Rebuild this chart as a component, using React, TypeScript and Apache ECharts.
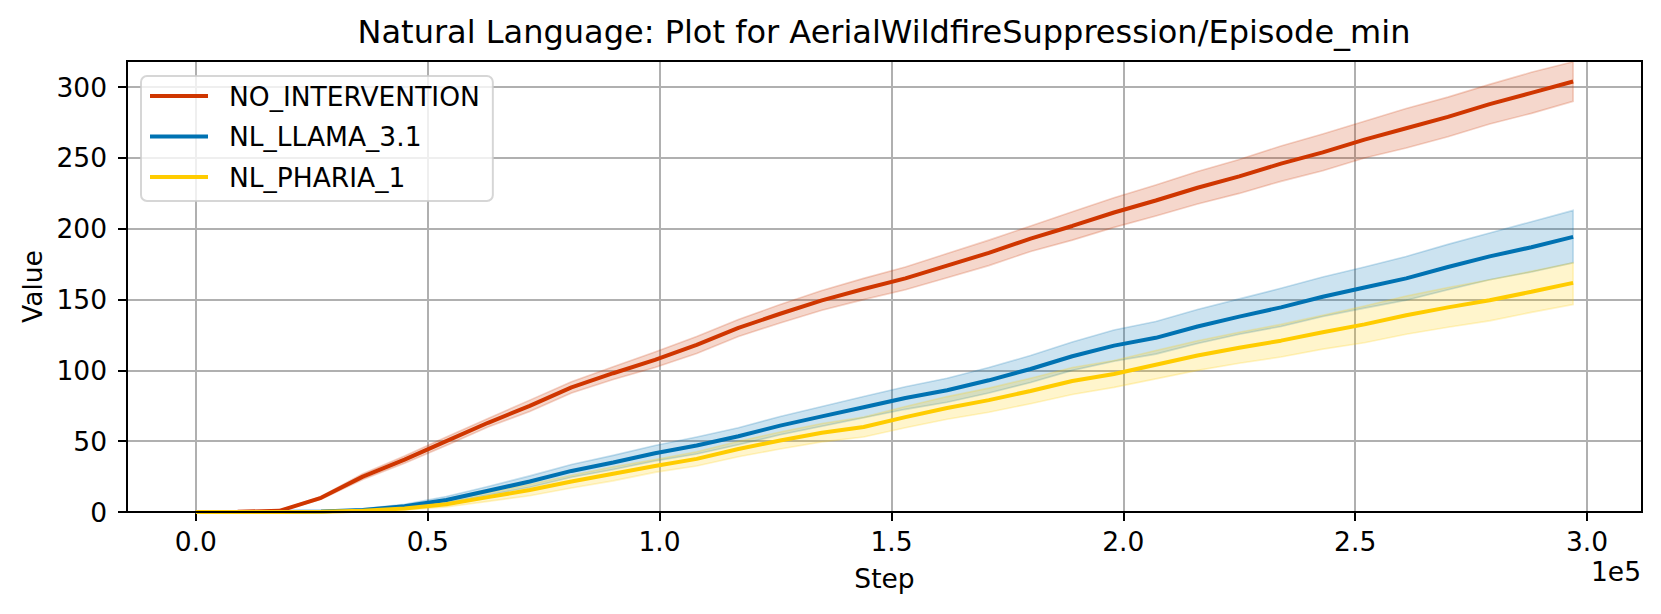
import React, { useEffect, useRef } from "react";
import * as echarts from "echarts";

const steps = [0, 9000, 18000, 27000, 36000, 45000, 54000, 63000, 72000, 81000, 90000, 99000, 108000, 117000, 126000, 135000, 144000, 153000, 162000, 171000, 180000, 189000, 198000, 207000, 216000, 225000, 234000, 243000, 252000, 261000, 270000, 279000, 288000, 297000];

const noInterventionMean = [0, 0.2, 0.8, 10, 25, 37, 50, 63, 75, 88, 98, 107.5, 118, 130, 140, 149.5, 157.5, 165, 174, 183, 193, 202, 211.5, 220, 229, 237, 246, 254, 263, 271, 279, 288, 296, 304];
const noInterventionHi = [0, 0.3, 1, 11, 27, 39.5, 53, 66, 79, 92, 102.5, 113, 124, 136, 146.5, 156.5, 165, 173, 182.5, 192, 202, 212, 222, 231, 240.5, 249, 258.5, 267, 276, 285, 293, 302, 310.5, 318];
const noInterventionLo = [0, 0.1, 0.6, 9, 23, 34.5, 47, 60, 71, 84, 93.5, 102, 112, 124, 133.5, 142.5, 150, 157, 165.5, 174, 184, 192, 201, 209, 217.5, 225, 233.5, 241, 250, 257, 265, 274, 281.5, 290];

const llamaMean = [0, 0, 0, 0.3, 1.5, 4, 8.5, 15, 21.5, 29, 35, 41.5, 47, 53.5, 61, 67.5, 74, 80.5, 86, 93, 101, 110, 117.5, 123, 131, 138, 144.5, 152, 158.5, 165, 173, 180.5, 187, 194.3];
const llamaHi = [0, 0, 0.1, 0.6, 2.3, 5.5, 11, 18, 25.5, 33.5, 40, 47, 53, 59.5, 67.5, 74.5, 81.5, 88.5, 94.5, 102, 110.5, 120, 128.5, 134.5, 143, 150.5, 158, 166, 173, 180.5, 189, 197, 205, 213];
const llamaLo = [0, 0, 0, 0.1, 0.8, 2.8, 6.5, 12, 17.5, 24.5, 30, 36, 41, 47.5, 54.5, 60.5, 66.5, 72.5, 77.5, 84, 91.5, 100, 106.5, 111.5, 119, 125.5, 131, 138, 144, 149.5, 157, 164, 169.5, 176];

const phariaMean = [0, 0, 0, 0.1, 0.8, 2.5, 5.5, 10.5, 15.5, 21.5, 27, 32.5, 37.5, 44.5, 50.5, 56, 60, 67, 73.5, 79, 85.5, 92.5, 97.5, 104, 110.5, 116, 121, 127, 132.5, 139, 144.5, 149.5, 155.5, 161.8];
const phariaHi = [0, 0, 0, 0.3, 1.4, 4, 8, 14, 19.5, 26, 32, 37, 42.5, 50, 56.5, 62.5, 67, 74.5, 81.5, 87.5, 94.5, 102, 107, 114, 121, 127, 132.5, 139, 145.5, 152.5, 158.5, 164, 170, 176];
const phariaLo = [0, 0, 0, 0, 0.3, 1.2, 3.5, 7.5, 11.5, 17, 22, 28, 32.5, 39, 44.5, 49.5, 53, 59.5, 65.5, 70.5, 76.5, 83, 88, 94, 100, 105, 109.5, 115, 119.5, 125.5, 130.5, 135, 141, 146.5];

const xTicks = [0, 50000, 100000, 150000, 200000, 250000, 300000];
const yTicks = [0, 50, 100, 150, 200, 250, 300];

const seriesDefs = [
  { name: "NO_INTERVENTION", color: "#CF3600", rgb: "207,54,0", mean: noInterventionMean, hi: noInterventionHi, lo: noInterventionLo },
  { name: "NL_LLAMA_3.1", color: "#0072B2", rgb: "0,114,178", mean: llamaMean, hi: llamaHi, lo: llamaLo },
  { name: "NL_PHARIA_1", color: "#FFCC00", rgb: "255,204,0", mean: phariaMean, hi: phariaHi, lo: phariaLo },
];

const FONT = '"DejaVu Sans", "Liberation Sans", sans-serif';
const TICK_FS = 26.5;

export default function App() {
  const ref = useRef<HTMLDivElement>(null);

  useEffect(() => {
    if (!ref.current) return;
    const chart = echarts.init(ref.current, null, { renderer: "svg" });

    const bandSeries = seriesDefs.map((d) => ({
      type: "custom",
      name: d.name + " band",
      silent: true,
      z: 1,
      data: [[steps[0], d.lo[0]]],
      renderItem: (params: any, api: any) => {
        const pts: number[][] = [];
        for (let i = 0; i < steps.length; i++) pts.push(api.coord([steps[i], d.hi[i]]));
        for (let i = steps.length - 1; i >= 0; i--) pts.push(api.coord([steps[i], d.lo[i]]));
        return {
          type: "polygon",
          shape: { points: pts },
          style: {
            fill: `rgba(${d.rgb},0.2)`,
            stroke: `rgba(${d.rgb},0.22)`,
            lineWidth: 1.6,
          },
        };
      },
    }));

    const lineSeries = seriesDefs.map((d) => ({
      type: "line",
      name: d.name,
      color: d.color,
      data: steps.map((x, i) => [x, d.mean[i]]),
      showSymbol: false,
      symbol: "none",
      z: 3,
      lineStyle: { color: d.color, width: 4 },
      itemStyle: { color: d.color },
    }));

    chart.setOption({
      animation: false,
      backgroundColor: "#ffffff",
      title: {
        text: "Natural Language: Plot for AerialWildfireSuppression/Episode_min",
        left: 884,
        top: 16,
        padding: 0,
        textAlign: "center",
        textStyle: { fontFamily: FONT, fontSize: 32, fontWeight: "normal", color: "#000" },
      },
      grid: { left: 127, right: 19, top: 61, bottom: 102, containLabel: false },
      legend: {
        data: seriesDefs.map((d) => d.name),
        orient: "vertical",
        left: 141,
        top: 76,
        padding: [5, 13, 9, 9],
        itemWidth: 58,
        itemHeight: 4,
        itemGap: 10.5,
        icon: "rect",
        backgroundColor: "rgba(255,255,255,0.8)",
        borderColor: "rgba(204,204,204,0.8)",
        borderWidth: 2,
        borderRadius: 6,
        textStyle: { fontFamily: FONT, fontSize: TICK_FS, color: "#000", lineHeight: 30, padding: [0, 0, 0, 16] },
      },
      xAxis: {
        type: "value",
        min: -14850,
        max: 311850,
        name: "Step",
        nameLocation: "middle",
        nameGap: 53,
        nameTextStyle: { fontFamily: FONT, fontSize: TICK_FS, color: "#000" },
        axisLine: { show: true, onZero: false, lineStyle: { color: "#000", width: 2 } },
        axisTick: { show: true, length: 9, lineStyle: { color: "#000", width: 2 }, customValues: xTicks },
        axisLabel: {
          margin: 16,
          fontFamily: FONT,
          fontSize: TICK_FS,
          color: "#000",
          customValues: xTicks,
          formatter: (v: number) => (v % 50000 === 0 ? (v / 100000).toFixed(1) : ""),
        },
        splitLine: { show: true, lineStyle: { color: "#b0b0b0", width: 2 } },
      },
      yAxis: {
        type: "value",
        min: 0,
        max: 318.5,
        name: "Value",
        nameLocation: "middle",
        nameGap: 79,
        nameRotate: 90,
        nameTextStyle: { fontFamily: FONT, fontSize: TICK_FS, color: "#000" },
        axisLine: { show: true, onZero: false, lineStyle: { color: "#000", width: 2 } },
        axisTick: { show: true, length: 9, lineStyle: { color: "#000", width: 2 }, customValues: yTicks },
        axisLabel: {
          margin: 20,
          fontFamily: FONT,
          fontSize: TICK_FS,
          color: "#000",
          customValues: yTicks,
          formatter: (v: number) => (v % 50 === 0 ? String(v) : ""),
        },
        splitLine: { show: true, lineStyle: { color: "#b0b0b0", width: 2 } },
      },
      graphic: [
        {
          type: "rect",
          z: 100,
          silent: true,
          shape: { x: 127, y: 61, width: 1515, height: 451 },
          style: { fill: "none", stroke: "#000", lineWidth: 2 },
        },
        {
          type: "text",
          z: 100,
          x: 1641,
          y: 571,
          style: {
            text: "1e5",
            align: "right",
            verticalAlign: "middle",
            font: `${TICK_FS}px ${FONT}`,
            fill: "#000",
          },
        },
      ],
      series: [...bandSeries, ...lineSeries],
    });

    return () => chart.dispose();
  }, []);

  return (
    <div
      ref={ref}
      style={{ position: "fixed", left: 0, top: 0, width: 1661, height: 614, background: "#fff" }}
    />
  );
}
